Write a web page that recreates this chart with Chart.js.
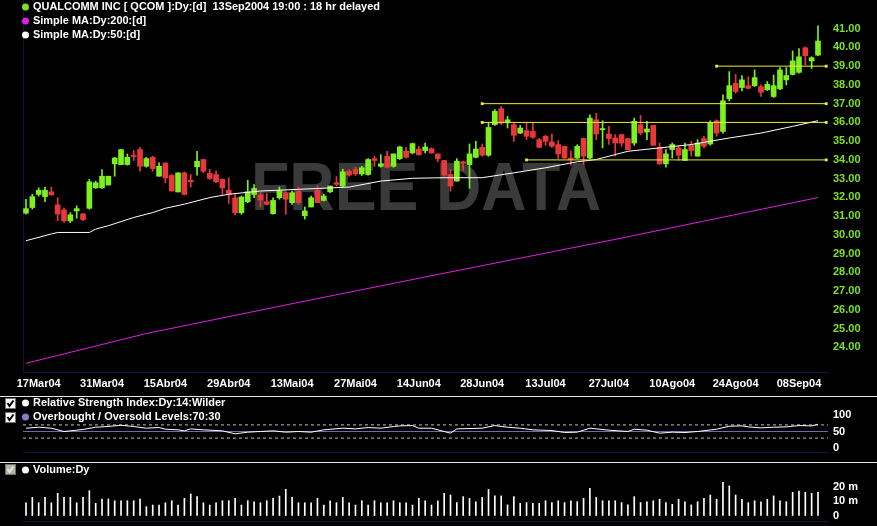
<!DOCTYPE html>
<html>
<head>
<meta charset="utf-8">
<script src="https://cdn.jsdelivr.net/npm/chart.js@4.4.1/dist/chart.umd.min.js"></script>
<style>
  body { margin: 0; background: #000; }
  #wrap { position: relative; width: 877px; height: 526px; overflow: hidden; background: #000; }
  canvas { position: absolute; left: 0; }
</style>
</head>
<body>
<div id="wrap">
  <canvas id="mainChart" width="877" height="395" style="top:0"></canvas>
  <canvas id="rsiChart" width="877" height="67" style="top:395px"></canvas>
  <canvas id="volChart" width="877" height="64" style="top:462px"></canvas>
</div>
<script>
// QCOM daily candles, 15 Mar 2004 .. 13 Sep 2004 (index = trading day)
const candleOpen = [31.16,31.46,32.16,32.04,32.30,31.60,31.33,30.75,31.28,31.12,
  31.42,32.51,32.51,32.66,33.79,33.75,33.75,34.23,34.55,33.66,
  34.14,33.13,33.84,33.17,32.29,33.31,32.91,33.63,34.02,33.28,
  33.22,32.96,32.38,31.98,31.18,31.77,32.16,32.13,31.77,31.13,
  31.98,32.25,31.72,32.34,31.02,31.49,32.38,31.84,32.30,32.78,
  32.61,33.40,33.49,33.25,33.22,34.07,33.66,34.19,33.66,34.07,
  34.46,34.37,34.58,34.50,34.60,34.32,33.97,33.22,32.87,33.90,
  33.75,34.14,34.67,34.25,35.88,36.73,36.02,35.88,35.43,35.56,
  35.52,35.08,35.26,34.96,34.82,34.72,34.10,34.10,35.14,34.10,
  36.14,35.61,35.38,35.17,35.35,35.14,34.90,35.88,35.49,35.84,
  34.67,33.79,34.55,34.64,33.97,34.78,34.20,35.14,34.85,36.09,
  35.52,37.26,38.09,37.86,37.96,37.96,37.91,37.74,37.38,37.79,
  38.27,38.56,38.67,39.98,39.28,39.59];
const candleHigh = [31.90,32.17,32.51,32.55,32.55,31.98,31.43,31.19,31.55,31.15,
  32.96,32.87,33.49,33.13,34.14,34.55,34.32,34.50,34.67,34.14,
  34.19,33.84,33.84,33.22,33.31,33.36,33.22,34.46,34.02,33.49,
  33.40,32.99,33.04,32.16,32.07,32.91,32.69,32.30,32.21,31.98,
  32.55,32.30,32.34,32.55,31.49,32.07,32.61,32.16,32.61,33.11,
  33.50,33.49,33.61,33.66,34.07,34.19,34.28,34.46,34.32,34.73,
  34.67,34.90,34.72,34.90,34.64,34.32,33.97,33.49,34.07,33.93,
  34.85,34.99,34.85,35.96,36.68,36.85,36.32,35.96,35.84,35.96,
  35.96,35.14,35.31,35.38,35.03,34.72,34.49,34.81,35.17,36.41,
  36.49,36.09,35.79,35.35,35.38,35.14,36.23,36.37,36.06,35.84,
  34.90,34.55,34.90,34.73,34.90,34.99,35.08,35.26,36.09,36.14,
  37.47,38.71,38.56,38.50,38.44,38.80,38.00,38.18,38.53,38.92,
  38.92,39.81,39.94,40.03,39.50,41.15];
const candleLow = [31.11,31.38,32.07,31.77,32.13,30.75,30.66,30.66,30.89,30.76,
  31.37,32.48,32.48,32.66,33.13,33.75,33.72,33.97,33.40,33.61,
  33.40,33.13,32.78,32.34,32.29,32.13,32.55,33.19,33.31,32.96,
  32.78,32.16,31.68,31.06,31.10,31.72,31.98,31.49,31.60,31.10,
  31.90,31.10,31.63,31.63,30.84,31.49,31.72,31.81,32.25,32.61,
  32.52,33.13,33.17,33.17,33.19,33.66,33.61,33.57,33.61,34.02,
  34.10,34.32,34.25,34.37,34.35,33.90,33.13,32.34,32.87,33.44,
  32.48,34.10,34.19,34.19,35.84,35.88,35.70,34.99,35.40,35.08,
  35.14,34.64,34.78,34.67,34.07,34.08,33.72,34.07,33.76,34.07,
  35.08,34.64,34.82,34.20,34.73,34.55,34.78,35.35,35.08,34.78,
  33.76,33.61,34.10,33.97,33.97,34.20,34.20,34.64,34.78,35.26,
  35.43,37.15,37.56,37.68,37.79,37.91,37.38,37.70,37.33,37.74,
  38.00,38.53,38.62,39.06,38.88,39.56];
const candleClose = [31.40,32.04,32.38,32.38,32.13,31.11,30.75,31.07,31.40,30.82,
  32.83,32.78,33.13,33.13,34.10,34.55,34.14,34.18,33.66,34.07,
  33.54,33.66,33.04,32.34,33.31,32.16,32.83,33.93,33.40,33.01,
  32.83,32.51,32.13,31.18,32.02,32.30,32.48,31.86,31.63,31.84,
  32.34,31.90,32.25,31.72,31.28,31.98,31.72,32.07,32.61,32.70,
  33.36,33.19,33.25,33.58,34.02,33.97,33.79,33.61,34.32,34.69,
  34.14,34.87,34.28,34.69,34.37,34.07,33.19,32.61,33.93,33.82,
  34.32,34.58,34.25,35.73,36.59,35.96,36.14,35.31,35.70,35.26,
  35.21,34.67,34.99,34.73,34.32,34.10,34.02,34.72,34.20,36.23,
  35.38,35.67,35.14,34.90,34.90,34.55,36.06,35.43,35.65,34.78,
  33.79,34.32,34.82,34.25,34.55,34.50,34.90,34.73,35.96,35.43,
  37.15,37.96,37.65,38.27,37.82,38.39,37.61,38.03,37.96,38.80,
  38.50,39.28,39.50,39.56,39.45,40.34];

// volume in millions of shares
const volume = [8.8,12.5,8.8,12.5,8.8,15.3,12.5,12.5,8.8,12.5,
  17.1,8.4,11.4,11.4,10.2,10.2,10.2,10.2,11.4,6.1,
  7.2,7.2,8.8,10.2,7.2,11.9,14.8,13.0,8.8,7.2,
  8.8,10.2,10.2,11.9,7.2,10.2,9.5,8.8,10.2,11.9,
  13.4,18.1,12.5,8.8,8.8,8.8,11.9,7.2,10.2,8.8,
  12.5,8.8,7.2,10.2,7.2,10.2,8.8,8.8,10.2,8.8,
  8.8,7.2,11.9,10.2,7.2,10.2,
  15.3,14.1,8.9,13.0,11.8,9.5,12.5,18.0,13.5,13.5,
  7.3,13.0,8.4,8.9,8.4,8.4,10.2,8.9,10.2,8.9,
  10.2,9.5,11.8,18.7,12.5,10.2,10.2,10.2,8.9,7.3,
  13.0,8.9,9.5,10.2,11.2,8.9,7.7,11.2,9.5,7.3,
  9.5,11.8,14.1,11.2,22.9,20.4,14.1,11.2,8.9,10.2,
  9.5,11.2,13.5,10.2,9.5,16.0,16.9,16.0,15.3,16.0];

// moving averages (day index, value)
const ma50Idx = [0,4,5,10,11,13,15,17,20,22,25,29,32,37,43,51,56,61,66,72,77,82,87,90,95,100,105,111,116,121,125];
const ma50Vals = [29.69,30.05,30.13,30.13,30.31,30.49,30.71,30.93,31.19,31.42,31.64,31.99,32.17,32.34,32.43,32.55,32.87,33.02,33.05,33.05,33.31,33.58,33.90,34.02,34.46,34.64,34.82,35.17,35.43,35.79,36.09];
const ma200Idx = [0,19,42,65,94,125];
const ma200Vals = [23.15,24.74,26.33,27.89,29.83,31.99];

// support / resistance lines (level, first day index)
const levelVals = [39, 37, 36, 34];
const levelStart = [109, 72, 72, 79];
const levelEnd = 126.3;

// RSI(14)
const rsiIdx = [0,2,4,6,7,9,11,12,14,15,17,19,21,22,24,25,26,28,31,33,35,37,39,41,43,45,47,50,52,54,56,58,59,61,62,64,
  65,67,68,72,74,76,78,80,83,85,87,89,92,95,96,98,100,102,104,106,109,111,113,114,116,118,120,122,124,125];
const rsiVals = [60,63,60,50,52,56,63,64,67,69,65,60,62,57,55,52,58,55,52,43,48,50,52,48,50,48,55,60,58,62,60,65,67,68,60,60,
  55,45,58,60,68,63,60,55,53,47,48,60,54,50,57,54,45,48,47,50,57,66,67,64,61,63,64,68,67,72];
const rsiLevels = [70, 50, 30];

const tickIdx = [2,12,22,32,42,52,62,72,82,92,102,112,122];
const tickLabels = ['17Mar04','31Mar04','15Abr04','29Abr04','13Mai04','27Mai04','14Jun04','28Jun04','13Jul04','27Jul04','10Ago04','24Ago04','08Sep04'];
const priceTicks = [24,25,26,27,28,29,30,31,32,33,34,35,36,37,38,39,40,41];
const rsiTicks = [0, 50, 100];
const volTicks = [0, 10, 20];

const legendRows = [
  { text: 'QUALCOMM INC [ QCOM ]:Dy:[d]  13Sep2004 19:00 : 18 hr delayed', color: '#7ee022' },
  { text: 'Simple MA:Dy:200:[d]', color: '#e020e0' },
  { text: 'Simple MA:Dy:50:[d]', color: '#ffffff' }
];

const SANS = "'Liberation Sans', Arial, sans-serif";
const LEGEND_FONT = 'bold 11px ' + SANS;
const X_MIN = -0.473, X_MAX = 126.58;
const UP = '#7ef020', DOWN = '#e8383c', NAVY = '#141440';

const dayIdx = candleOpen.map((_, i) => i);
const candleColors = dayIdx.map(i => candleClose[i] >= candleOpen[i] ? UP : DOWN);

function rightAxis(width) {
  return scale => {
    scale.width = width;
    scale.paddingTop = 0;
    scale.paddingBottom = 0;
  };
}

function drawCheckbox(ctx, x, y, enabled) {
  ctx.fillStyle = enabled ? '#ffffff' : '#b4b4a8';
  ctx.fillRect(x, y, 11, 11);
  ctx.strokeStyle = '#707070';
  ctx.lineWidth = 1;
  ctx.strokeRect(x + 0.5, y + 0.5, 10, 10);
  ctx.strokeStyle = enabled ? '#000000' : '#e6e6dc';
  ctx.lineWidth = 2;
  ctx.beginPath();
  ctx.moveTo(x + 2.5, y + 5);
  ctx.lineTo(x + 4.5, y + 8);
  ctx.lineTo(x + 8.5, y + 2.5);
  ctx.stroke();
}

// the source uses a narrow bold face: squeeze Liberation Sans to the same width
let legendSqueeze = null;
function drawLegendRow(ctx, text, color, y) {
  ctx.font = LEGEND_FONT;
  if (legendSqueeze === null) {
    legendSqueeze = 347 / ctx.measureText(legendRows[0].text).width;
  }
  ctx.fillStyle = color;
  ctx.beginPath();
  ctx.arc(25.5, y, 3.5, 0, Math.PI * 2);
  ctx.fill();
  ctx.save();
  ctx.translate(33, y);
  ctx.scale(legendSqueeze, 1);
  ctx.fillStyle = '#ffffff';
  ctx.textBaseline = 'middle';
  ctx.fillText(text, 0, 0);
  ctx.restore();
}

// watermark + frame of the price panel
const watermarkPlugin = {
  id: 'watermark',
  beforeDatasetsDraw(chart) {
    const ctx = chart.ctx;
    ctx.save();
    ctx.font = 'bold 68px ' + SANS;
    const w = ctx.measureText('FREE DATA').width;
    ctx.translate(426, 210);
    ctx.scale(350 / w, 1);
    ctx.fillStyle = '#3a3a3a';
    ctx.textAlign = 'center';
    ctx.textBaseline = 'alphabetic';
    ctx.fillText('FREE DATA', 0, 0);
    ctx.restore();

    const a = chart.chartArea;
    ctx.save();
    ctx.strokeStyle = NAVY;
    ctx.lineWidth = 1;
    ctx.beginPath();
    ctx.moveTo(a.left + 0.5, 0);
    ctx.lineTo(a.left + 0.5, a.bottom + 0.5);
    ctx.lineTo(a.right, a.bottom + 0.5);
    ctx.stroke();
    ctx.restore();
  },
  afterDraw(chart) {
    const ctx = chart.ctx;
    ctx.save();
    legendRows.forEach((row, k) => drawLegendRow(ctx, row.text, row.color, 7 + k * 14));
    ctx.restore();
  }
};

const rsiPanelPlugin = {
  id: 'rsiPanel',
  afterDraw(chart) {
    const ctx = chart.ctx;
    const a = chart.chartArea;
    ctx.save();
    ctx.fillStyle = '#e8e8e8';
    ctx.fillRect(0, 1, 877, 1);
    ctx.strokeStyle = NAVY;
    ctx.beginPath();
    ctx.moveTo(a.left, a.bottom + 0.5);
    ctx.lineTo(a.right, a.bottom + 0.5);
    ctx.stroke();
    drawCheckbox(ctx, 5, 3, true);
    drawCheckbox(ctx, 5, 17, true);
    drawLegendRow(ctx, 'Relative Strength Index:Dy:14:Wilder', '#ffffff', 8);
    drawLegendRow(ctx, 'Overbought / Oversold Levels:70:30', '#8080c8', 22);
    ctx.restore();
  }
};

const volPanelPlugin = {
  id: 'volPanel',
  afterDraw(chart) {
    const ctx = chart.ctx;
    const a = chart.chartArea;
    ctx.save();
    ctx.fillStyle = '#e8e8e8';
    ctx.fillRect(0, 0, 877, 1);
    ctx.strokeStyle = NAVY;
    ctx.beginPath();
    ctx.moveTo(a.left, a.bottom + 0.5);
    ctx.lineTo(a.right, a.bottom + 0.5);
    ctx.stroke();
    drawCheckbox(ctx, 5, 2, false);
    drawLegendRow(ctx, 'Volume:Dy', '#ffffff', 8);
    ctx.restore();
  }
};

const commonOpts = {
  responsive: false,
  devicePixelRatio: 1,
  animation: false,
  plugins: { legend: { display: false }, tooltip: { enabled: false } }
};

function hiddenX() {
  return {
    type: 'linear', min: X_MIN, max: X_MAX, offset: false, display: false,
    afterFit: scale => { scale.height = 0; }
  };
}

// price panel
new Chart(document.getElementById('mainChart'), {
  type: 'bar',
  data: {
    datasets: [
      ...levelVals.map((v, k) => ({
        type: 'line', order: 0,
        data: [{ x: levelStart[k], y: v }, { x: levelEnd, y: v }],
        borderColor: '#ecec3c', backgroundColor: '#ecec3c', borderWidth: 1,
        pointStyle: 'rect', pointRadius: 2, pointBorderWidth: 0
      })),
      {
        type: 'line', order: 1,
        data: ma50Idx.map((x, k) => ({ x, y: ma50Vals[k] })),
        borderColor: '#ffffff', borderWidth: 1, pointRadius: 0, tension: 0
      },
      {
        type: 'line', order: 1,
        data: ma200Idx.map((x, k) => ({ x, y: ma200Vals[k] })),
        borderColor: '#e020e0', borderWidth: 1, pointRadius: 0, tension: 0
      },
      {
        order: 2, grouped: false,
        data: dayIdx.map(i => ({ x: i, y: [candleOpen[i], candleClose[i]] })),
        backgroundColor: candleColors, borderWidth: 0, barThickness: 5, minBarLength: 1
      },
      {
        order: 3, grouped: false,
        data: dayIdx.map(i => ({ x: i, y: [candleLow[i], candleHigh[i]] })),
        backgroundColor: candleColors, borderWidth: 0, barThickness: 1
      }
    ]
  },
  options: {
    ...commonOpts,
    layout: { padding: { left: 23, top: 2, right: 0, bottom: 0 } },
    scales: {
      x: {
        type: 'linear', min: X_MIN, max: X_MAX, offset: false,
        grid: { display: false, drawTicks: false }, border: { display: false },
        afterBuildTicks: scale => { scale.ticks = tickIdx.map(v => ({ value: v })); },
        afterFit: scale => { scale.height = 23; scale.paddingLeft = 0; scale.paddingRight = 0; },
        ticks: {
          autoSkip: false, maxRotation: 0, minRotation: 0, padding: 5,
          color: '#ffffff', font: { family: SANS, size: 11, weight: 'bold' },
          callback: (v, i) => tickLabels[i]
        }
      },
      y: {
        position: 'right', min: 22.687, max: 42.316,
        grid: { display: false, drawTicks: false }, border: { display: false },
        afterBuildTicks: scale => { scale.ticks = priceTicks.map(v => ({ value: v })); },
        afterFit: rightAxis(49),
        ticks: {
          padding: 5, color: '#7ee022',
          font: { family: SANS, size: 11, weight: 'bold' },
          callback: v => Number(v).toFixed(2)
        }
      }
    }
  },
  plugins: [watermarkPlugin]
});

// RSI panel
new Chart(document.getElementById('rsiChart'), {
  type: 'line',
  data: {
    datasets: [
      {
        data: rsiIdx.map((x, k) => ({ x, y: rsiVals[k] })),
        borderColor: '#ffffff', borderWidth: 1, pointRadius: 0, tension: 0
      },
      ...rsiLevels.map(v => ({
        data: [{ x: X_MIN, y: v }, { x: X_MAX, y: v }],
        borderColor: v === 50 ? '#6c6cb4' : '#bdbdbd',
        borderDash: v === 50 ? [] : [3, 3],
        borderWidth: 1, pointRadius: 0
      }))
    ]
  },
  options: {
    ...commonOpts,
    layout: { padding: { left: 23, top: 18, right: 0, bottom: 10 } },
    scales: {
      x: hiddenX(),
      y: {
        position: 'right', min: -12.12, max: 106.06,
        grid: { display: false, drawTicks: false }, border: { display: false },
        afterBuildTicks: scale => { scale.ticks = rsiTicks.map(v => ({ value: v })); },
        afterFit: rightAxis(49),
        ticks: {
          padding: 5, color: '#ffffff',
          font: { family: SANS, size: 11, weight: 'bold' },
          callback: v => String(v)
        }
      }
    }
  },
  plugins: [rsiPanelPlugin]
});

// volume panel
new Chart(document.getElementById('volChart'), {
  type: 'bar',
  data: {
    datasets: [{
      grouped: false,
      data: dayIdx.map(i => ({ x: i, y: [0, volume[i]] })),
      backgroundColor: '#ffffff', borderWidth: 0, barThickness: 1
    }]
  },
  options: {
    ...commonOpts,
    layout: { padding: { left: 23, top: 14, right: 0, bottom: 5 } },
    scales: {
      x: hiddenX(),
      y: {
        position: 'right', min: -3.79, max: 27.24,
        grid: { display: false, drawTicks: false }, border: { display: false },
        afterBuildTicks: scale => { scale.ticks = volTicks.map(v => ({ value: v })); },
        afterFit: rightAxis(49),
        ticks: {
          padding: 5, color: '#ffffff',
          font: { family: SANS, size: 11, weight: 'bold' },
          callback: v => (v === 0 ? '0' : v + ' m')
        }
      }
    }
  },
  plugins: [volPanelPlugin]
});
</script>
</body>
</html>
